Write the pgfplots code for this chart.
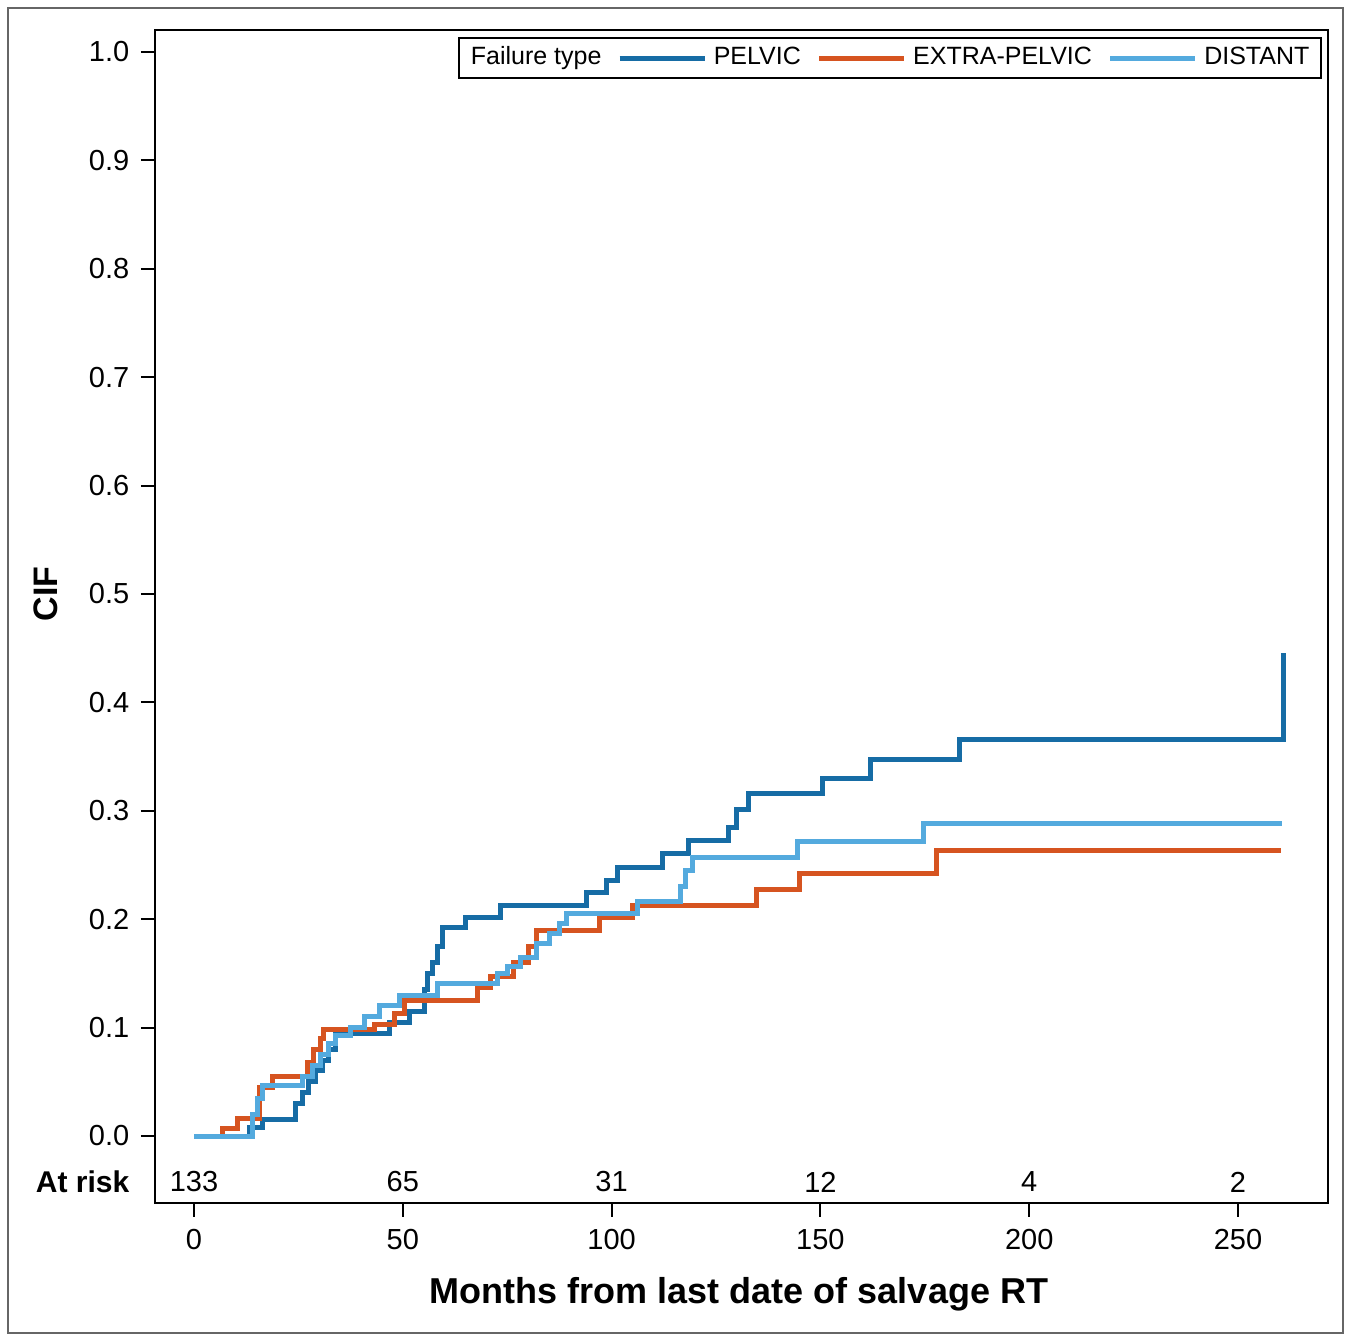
\documentclass[border=0pt]{standalone}
\usepackage{fontspec}
\setmainfont{Liberation Sans}
\usepackage{pgfplots}
\pgfplotsset{compat=1.18}
\definecolor{pelvic}{RGB}{22,108,165}
\definecolor{extrapelvic}{RGB}{214,84,32}
\definecolor{distant}{RGB}{84,170,222}
\begin{document}
\begin{tikzpicture}
% page = 1349 x 1338 px, 1 px = 0.3pt, origin at lower left of the axis box
\path (-46.5pt,-40.5pt) rectangle (358.2pt,360.9pt);
\draw[black!60,line width=0.6pt] (-44.1pt,-39pt) rectangle (356.4pt,358.5pt);
\begin{axis}[
  at={(0,0)}, anchor=south west,
  scale only axis, width=351.9pt, height=351.9pt,
  xmin=-9.34, xmax=271.55, ymin=-0.0618, ymax=1.0203,
  axis line style={line width=0.6pt},
  xtick={0,50,...,250}, ytick={0,0.1,...,1.0},
  tick align=outside, tick pos=left,
  major tick length=4.2pt,
  tick style={line width=0.6pt, black},
  ticklabel style={font=\fontsize{8.7}{10}\selectfont},
  /pgf/number format/assume math mode=true,
  yticklabel style={/pgf/number format/.cd, fixed, fixed zerofill, precision=1},
  legend style={at={(rel axis cs:0.9949,0.994)}, anchor=north east,
    legend columns=-1, draw=black, line width=0.6pt,
    inner ysep=0.6pt, inner xsep=1.5pt,
    font=\fontsize{7.5}{8.5}\selectfont,
    /tikz/every even column/.append style={column sep=2.7pt}},
  legend image code/.code={\draw[#1,line width=1.5pt] (0pt,0pt) -- (25.5pt,0pt);},
  every axis plot/.append style={const plot, line width=1.5pt, line join=miter},
]
\addlegendimage{empty legend}
\addlegendentry{Failure type\hspace{4pt}}

% PELVIC
\addplot[pelvic] coordinates {
 (0,0) (13.4,0.008) (16.3,0.015) (24.2,0.03) (25.9,0.04) (27.3,0.05)
 (29.0,0.06) (30.7,0.07) (32.1,0.08) (33.8,0.095) (46.9,0.105) (51.7,0.115)
 (55.3,0.135) (56.0,0.15) (57.2,0.16) (58.4,0.175) (59.6,0.192) (64.9,0.202)
 (73.3,0.213) (94.1,0.225) (98.7,0.236) (101.3,0.248) (112.1,0.261)
 (118.3,0.273) (127.9,0.285) (130.0,0.301) (132.7,0.316) (150.6,0.330)
 (161.9,0.347) (183.4,0.366) (260.8,0.366) (260.8,0.446)
};
\addlegendentry{PELVIC}

% EXTRA-PELVIC
\addplot[extrapelvic] coordinates {
 (0,0) (6.9,0.007) (10.3,0.016) (15.8,0.045) (18.7,0.055) (27.1,0.068)
 (28.5,0.08) (30.2,0.09) (30.9,0.098) (43.3,0.103) (48.1,0.113) (50.5,0.125)
 (68.0,0.137) (70.9,0.147) (76.4,0.16) (80.0,0.175) (82.1,0.19) (97.2,0.202)
 (105.1,0.213) (134.8,0.227) (145.1,0.242) (177.9,0.263) (260.3,0.263)
};
\addlegendentry{EXTRA-PELVIC}

% DISTANT
\addplot[distant] coordinates {
 (0,0) (13.9,0.02) (15.1,0.035) (16.5,0.047) (26.1,0.055) (28.3,0.065)
 (30.2,0.075) (32.1,0.085) (34.0,0.093) (37.4,0.1) (40.9,0.11) (44.5,0.12)
 (49.3,0.13) (58.2,0.141) (72.6,0.15) (75.0,0.156) (78.1,0.165) (82.1,0.178)
 (85.2,0.187) (87.6,0.196) (89.3,0.205) (106.1,0.216) (116.6,0.23)
 (117.8,0.245) (119.3,0.257) (144.4,0.272) (174.6,0.288) (260.5,0.288)
};
\addlegendentry{DISTANT}

% numbers at risk
\foreach \t/\n in {0/133,50/65,100/31,150/12,200/4,250/2}{
  \edef\tmp{\noexpand\node[font=\noexpand\fontsize{8.7}{10}\noexpand\selectfont] at (axis cs:\t,-0.0424) {\n};}
  \tmp
}
\end{axis}
\node[anchor=east,inner sep=0pt,font=\bfseries\fontsize{9}{10}\selectfont] at (-7.5pt,6.3pt) {At risk};
\node[font=\bfseries\fontsize{10.8}{12}\selectfont] at (175.2pt,-27.5pt) {Months from last date of salvage RT};
\node[rotate=90,font=\bfseries\fontsize{10.2}{12}\selectfont] at (-32.7pt,182.7pt) {CIF};
\end{tikzpicture}
\end{document}
